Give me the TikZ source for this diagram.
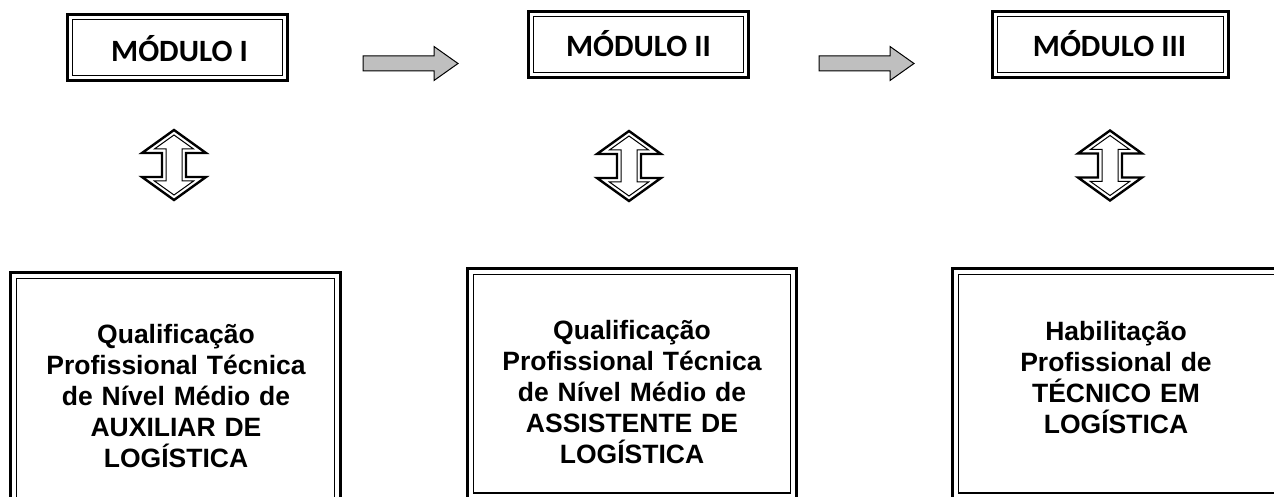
\documentclass[tikz,border=0pt]{standalone}
\usepackage{fontspec}
\newfontfamily\modfont{Carlito}
\newfontfamily\txtfont{Liberation Sans}
\tikzset{
  outerline/.style={draw=black, line width=2.6pt, outer sep=0pt, inner sep=0pt},
  innerline/.style={draw=black, line width=1.5pt},
  modlabel/.style={anchor=base, inner sep=0pt, font=\modfont\bfseries\fontsize{31}{36}\selectfont},
  qlabel/.style={anchor=base, inner sep=0pt, text width=320pt, align=center,
    font=\txtfont\bfseries\fontsize{26.5}{31}\selectfont},
  updown/.pic={
    \draw[line width=2.4pt, miter limit=10]
      (0,-35) -- (32,-12) -- (12,-12) -- (12,12) -- (32,12) -- (0,35)
      -- (-32,12) -- (-12,12) -- (-12,-12) -- (-32,-12) -- cycle;
    \draw[line width=1pt, miter limit=10]
      (0,-30) -- (19.6,-16) -- (8,-16) -- (8,16) -- (19.6,16) -- (0,30)
      -- (-19.6,16) -- (-8,16) -- (-8,-16) -- (-19.6,-16) -- cycle;
  },
  grayarrow/.pic={
    \draw[fill=gray!50, line width=1pt, miter limit=10]
      (0,-7.5) -- (71,-7.5) -- (71,-17) -- (95,0) -- (71,17) -- (71,7.5) -- (0,7.5) -- cycle;
  }
}
\begin{document}
\begin{tikzpicture}[x=1pt, y=-1pt]
  \useasboundingbox (0,0) rectangle (1274,497);
  \clip (0,0) rectangle (1274,497);

  % module boxes
  \node[outerline, minimum width=220.4pt, minimum height=66.4pt] (m1) at (177.5,47.5) {};
  \node[outerline, minimum width=220.4pt, minimum height=66.4pt] (m2) at (638.5,44.5) {};
  \node[outerline, minimum width=236.4pt, minimum height=66.4pt] (m3) at (1110.5,44.5) {};
  \foreach \m in {m1,m2,m3}{
    \draw[innerline] ([xshift=5pt,yshift=-5pt]\m.north west) rectangle ([xshift=-5pt,yshift=5pt]\m.south east);
  }
  \node[modlabel] (t1) at (179.5,62) {MÓDULO I};
  \node[modlabel] (t2) at (638.5,57) {MÓDULO II};
  \node[modlabel] (t3) at (1109.5,57) {MÓDULO III};

  % gray arrows
  \pic (a1) at (363,63.5) {grayarrow};
  \pic (a2) at (819,63.5) {grayarrow};

  % up-down arrows
  \pic (u1) at (174,165) {updown};
  \pic (u2) at (629,166) {updown};
  \pic (u3) at (1110,165.5) {updown};

  % bottom boxes
  \node[outerline, minimum width=330.4pt, minimum height=247.7pt] (b1) at (175.5,396.15) {};
  \node[outerline, minimum width=329.4pt, minimum height=230.7pt] (b2) at (632,383.65) {};
  \node[outerline, minimum width=331.7pt, minimum height=230.7pt] (b3) at (1118.15,383.65) {};
  \foreach \b in {b1,b2,b3}{
    \draw[innerline] ([xshift=6pt,yshift=-6pt]\b.north west) rectangle ([xshift=-6pt,yshift=6pt]\b.south east);
  }
  \node[qlabel] (q1) at (176,343) {Qualificação\\Profissional Técnica\\de Nível Médio de\\AUXILIAR DE\\LOGÍSTICA};
  \node[qlabel] (q2) at (632,339.5) {Qualificação\\Profissional Técnica\\de Nível Médio de\\ASSISTENTE DE\\LOGÍSTICA};
  \node[qlabel] (q3) at (1116,340) {Habilitação\\Profissional de\\TÉCNICO EM\\LOGÍSTICA};
\end{tikzpicture}
\end{document}
